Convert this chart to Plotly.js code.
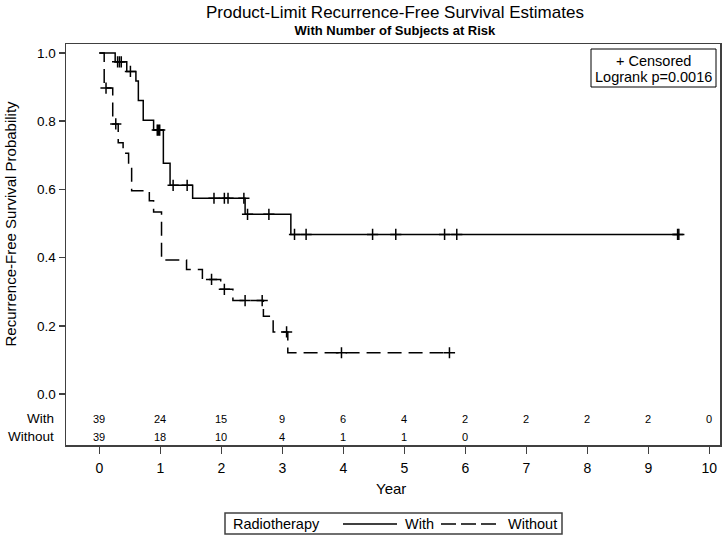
<!DOCTYPE html>
<html>
<head>
<meta charset="utf-8">
<script src="https://cdn.plot.ly/plotly-3.0.1.min.js"></script>
<style>html,body{margin:0;padding:0;background:#fff;}#chart{width:724px;height:536px;}</style>
</head>
<body>
<div id="chart"></div>
<script>
// Kaplan-Meier step estimates
const withTimes = [0, 0.26, 0.45, 0.60, 0.64, 0.72, 0.89, 1.05, 1.16, 1.53, 2.39, 3.14, 9.50];
const withSurv  = [1.0, 0.974, 0.946, 0.918, 0.861, 0.803, 0.774, 0.677, 0.612, 0.574, 0.527, 0.468, 0.468];
const withoutTimes = [0, 0.08, 0.22, 0.31, 0.39, 0.48, 0.53, 0.82, 0.89, 1.02, 1.43, 1.69, 1.99, 2.19, 2.69, 2.85, 3.09, 5.74];
const withoutSurv  = [1.0, 0.897, 0.792, 0.737, 0.706, 0.675, 0.596, 0.567, 0.534, 0.393, 0.365, 0.336, 0.307, 0.274, 0.228, 0.182, 0.121, 0.121];

// Censored observations
const withCensT = [0.30, 0.33, 0.36, 0.51, 0.95, 0.97, 0.99, 1.21, 1.44, 1.88, 2.05, 2.11, 2.37, 2.43, 2.78, 3.20, 3.39, 4.48, 4.86, 5.66, 5.86, 9.48, 9.50];
const withCensS = [0.974, 0.974, 0.974, 0.946, 0.774, 0.774, 0.774, 0.612, 0.612, 0.574, 0.574, 0.574, 0.574, 0.527, 0.527, 0.468, 0.468, 0.468, 0.468, 0.468, 0.468, 0.468, 0.468];
const withoutCensT = [0.11, 0.27, 1.84, 2.05, 2.39, 2.67, 3.07, 3.97, 5.74];
const withoutCensS = [0.897, 0.792, 0.336, 0.307, 0.274, 0.274, 0.182, 0.121, 0.121];

// Number at risk
const riskTimes = [0, 1, 2, 3, 4, 5, 6, 7, 8, 9, 10];
const withRisk = [39, 24, 15, 9, 6, 4, 2, 2, 2, 2, 0];
const withoutRisk = [39, 18, 10, 4, 1, 1, 0];
const groupLabels = ['With', 'Without'];
const yTicks = [0, 0.2, 0.4, 0.6, 0.8, 1.0];

const FONT = 'Liberation Sans, Arial, sans-serif';
const riskY = [-0.073, -0.126];

// plot area in pixels: left 66, right 720, top 44, bottom 445
const PL = 66, PW = 654, PT = 44, PH = 401;
const px = v => (v - PL) / PW;
const py = v => (PT + PH - v) / PH;

const traces = [
  {x: withTimes, y: withSurv, mode: 'lines', line: {shape: 'hv', color: '#000', width: 1.5}, name: 'With', showlegend: false},
  {x: withoutTimes, y: withoutSurv, mode: 'lines', line: {shape: 'hv', color: '#000', width: 1.5, dash: '14px,7px'}, name: 'Without', showlegend: false},
  {x: withCensT, y: withCensS, mode: 'markers', showlegend: false, hoverinfo: 'skip',
   marker: {symbol: 'cross-thin', size: 8, line: {color: '#000', width: 1.5}}},
  {x: withoutCensT, y: withoutCensS, mode: 'markers', showlegend: false, hoverinfo: 'skip',
   marker: {symbol: 'cross-thin', size: 8, line: {color: '#000', width: 1.5}}}
];

const ann = [];
const txt = (x, y, text, size, opts) => Object.assign({xref: 'paper', yref: 'paper', x: x, y: y, text: text, showarrow: false,
  xanchor: 'center', yanchor: 'middle', font: {family: FONT, size: size, color: '#000'}}, opts || {});
riskTimes.forEach((t, i) => {
  if (i < withRisk.length) ann.push({x: t, y: riskY[0], xref: 'x', yref: 'y', text: String(withRisk[i]), showarrow: false, font: {family: FONT, size: 11, color: '#000'}});
  if (i < withoutRisk.length) ann.push({x: t, y: riskY[1], xref: 'x', yref: 'y', text: String(withoutRisk[i]), showarrow: false, font: {family: FONT, size: 11, color: '#000'}});
});
groupLabels.forEach((g, i) => {
  ann.push({x: px(56), y: riskY[i], xref: 'paper', yref: 'y', xanchor: 'right', text: g, showarrow: false, font: {family: FONT, size: 13.5, color: '#000'}});
});
// titles (one text block, two lines)
ann.push(txt(px(395), py(20.5), '<span style="font-size:17px">Product-Limit Recurrence-Free Survival Estimates</span><br><b>With Number of Subjects at Risk</b>', 13, {borderpad: 0}));
// axis titles
ann.push(txt(px(10), 0, 'Recurrence-Free Survival Probability', 15, {yref: 'y', y: 0.5, textangle: -90}));
ann.push(txt(px(391), py(488), 'Year', 15, {borderpad: 0}));
// censored / logrank box
ann.push(txt(px(653.5), py(61), '+ Censored', 14.5));
ann.push(txt(px(653.5), py(77), 'Logrank p=0.0016', 14.5));
// legend
ann.push(txt(px(231), py(524), 'Radiotherapy', 14.5, {xanchor: 'left'}));
ann.push(txt(px(403), py(524), 'With', 14.5, {xanchor: 'left'}));
ann.push(txt(px(506), py(524), 'Without', 14.5, {xanchor: 'left'}));

const shapes = [
  {type: 'rect', xref: 'paper', yref: 'paper', x0: px(591), x1: px(716), y0: py(49), y1: py(87), line: {color: '#000', width: 1}, fillcolor: 'rgba(0,0,0,0)', layer: 'above'},
  {type: 'rect', xref: 'paper', yref: 'paper', x0: px(225), x1: px(562), y0: py(513), y1: py(534), line: {color: '#404040', width: 1.5}},
  {type: 'line', xref: 'paper', yref: 'paper', x0: px(343), x1: px(397), y0: py(524), y1: py(524), line: {color: '#000', width: 1.5}},
  {type: 'line', xref: 'paper', yref: 'paper', x0: px(441), x1: px(497), y0: py(524), y1: py(524), line: {color: '#000', width: 1.5, dash: '15px,5px'}}
];

const layout = {
  width: 724, height: 536,
  margin: {l: PL, r: 724 - PL - PW, t: PT, b: 536 - PT - PH},
  paper_bgcolor: '#fff', plot_bgcolor: '#fff',
  font: {family: FONT, size: 12, color: '#000'},
  xaxis: {range: [-0.546, 10.175], tickvals: riskTimes, ticks: 'outside', ticklen: 7, tickcolor: '#404040', tickwidth: 1.5,
    showline: true, linecolor: '#404040', linewidth: 1.5, mirror: true, showgrid: false, zeroline: false,
    ticklabelstandoff: 3,
    tickfont: {family: FONT, size: 14, color: '#000'}},
  yaxis: {range: [-0.1496, 1.0264], tickvals: yTicks, tickformat: '.1f', ticks: 'outside', ticklen: 6, tickcolor: '#404040', tickwidth: 1.5,
    showline: true, linecolor: '#404040', linewidth: 1.5, mirror: true, showgrid: false, zeroline: false,
    tickfont: {family: FONT, size: 13.5, color: '#000'}},
  showlegend: false,
  annotations: ann,
  shapes: shapes
};

Plotly.newPlot('chart', traces, layout, {staticPlot: true});
</script>
</body>
</html>
